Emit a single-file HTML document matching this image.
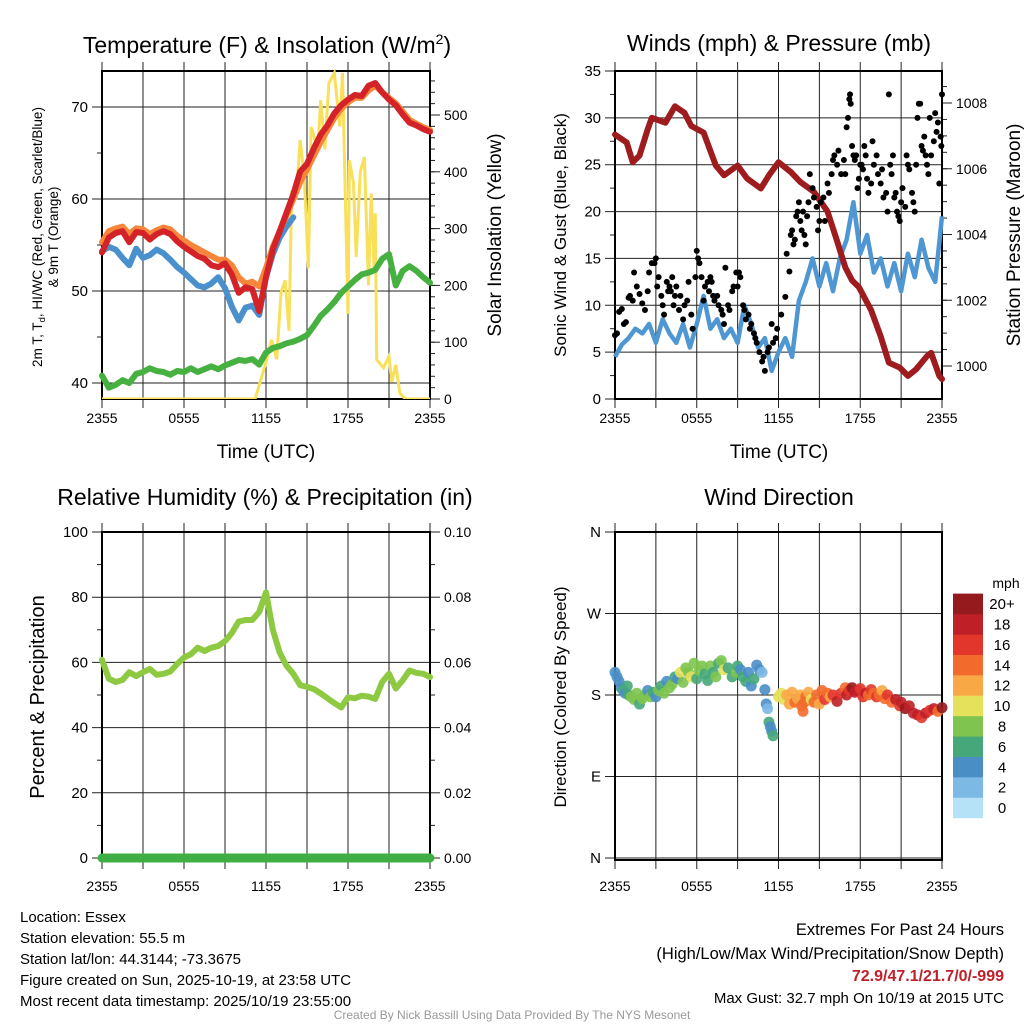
<!DOCTYPE html>
<html><head><meta charset="utf-8"><style>
html,body{margin:0;padding:0;background:#fff;}
svg{display:block;font-family:"Liberation Sans",Arial,sans-serif;}
</style></head><body>
<svg id="chart" width="1024" height="1024" viewBox="0 0 1024 1024" xmlns="http://www.w3.org/2000/svg">
<rect width="1024" height="1024" fill="#fff"/>
<g id="g"></g>
<text x="267" y="53" font-size="23" text-anchor="middle">Temperature (F) &amp; Insolation (W/m<tspan font-size="14" dy="-9">2</tspan><tspan dy="9">)</tspan></text>
<text x="779" y="51" font-size="23" text-anchor="middle">Winds (mph) &amp; Pressure (mb)</text>
<text x="265" y="505" font-size="23" text-anchor="middle">Relative Humidity (%) &amp; Precipitation (in)</text>
<text x="779" y="505" font-size="23" text-anchor="middle">Wind Direction</text>
<text x="266" y="458" font-size="19" text-anchor="middle">Time (UTC)</text>
<text x="779" y="458" font-size="19" text-anchor="middle">Time (UTC)</text>
<text transform="translate(42,237) rotate(-90)" font-size="13.5" text-anchor="middle">2m T, T<tspan font-size="9.5" dy="3">d</tspan><tspan dy="-3">, HI/WC (Red, Green, Scarlet/Blue)</tspan></text>
<text transform="translate(58,237) rotate(-90)" font-size="13.5" text-anchor="middle">&amp; 9m T (Orange)</text>
<text transform="translate(501,235) rotate(-90)" font-size="19" text-anchor="middle">Solar Insolation (Yellow)</text>
<text transform="translate(566,235) rotate(-90)" font-size="17" text-anchor="middle">Sonic Wind &amp; Gust (Blue, Black)</text>
<text transform="translate(1020,235) rotate(-90)" font-size="19" text-anchor="middle">Station Pressure (Maroon)</text>
<text transform="translate(44,697) rotate(-90)" font-size="20" text-anchor="middle">Percent &amp; Precipitation</text>
<text transform="translate(566,697) rotate(-90)" font-size="17" text-anchor="middle">Direction (Colored By Speed)</text>
<g font-size="15">
<text x="20" y="922">Location: Essex</text>
<text x="20" y="943">Station elevation: 55.5 m</text>
<text x="20" y="964">Station lat/lon: 44.3144; -73.3675</text>
<text x="20" y="985">Figure created on Sun, 2025-10-19, at 23:58 UTC</text>
<text x="20" y="1006">Most recent data timestamp: 2025/10/19 23:55:00</text>
</g>
<g text-anchor="end">
<text x="1004" y="935" font-size="16.5">Extremes For Past 24 Hours</text>
<text x="1004" y="959" font-size="16.5">(High/Low/Max Wind/Precipitation/Snow Depth)</text>
<text x="1004" y="981" font-size="16" font-weight="bold" fill="#c0202a">72.9/47.1/21.7/0/-999</text>
<text x="1004" y="1003" font-size="15">Max Gust: 32.7 mph On 10/19 at 2015 UTC</text>
</g>
<text x="512" y="1019" font-size="12" fill="#999" text-anchor="middle">Created By Nick Bassill Using Data Provided By The NYS Mesonet</text>
</svg>
<script>
// ---- data ----
const halfHours = []; for (let i = 0; i <= 48; i++) halfHours.push(i / 2);
const tempRed = [54.2,55.8,56.3,56.5,55.3,56.4,56.3,55.6,56.2,56.5,56.2,55.4,54.8,54.3,53.8,53.5,52.8,52.6,53.0,51.8,49.8,50.4,50.2,47.8,51.5,54.5,56.5,58.5,60.5,63.0,63.8,65.5,67.0,68.0,69.3,70.2,70.8,71.3,71.2,72.3,72.6,71.6,70.8,70.2,69.2,68.3,68.0,67.6,67.3];
const temp9m = [55.3,56.5,56.8,57.0,56.2,56.8,56.7,56.2,56.6,56.9,56.7,56.0,55.5,55.0,54.6,54.2,53.8,53.4,53.4,52.8,51.5,50.8,51.0,50.5,52.5,54.8,56.5,58.2,60.0,61.8,63.2,64.7,66.2,67.5,68.8,69.8,70.5,71.0,71.0,71.8,72.3,71.6,71.0,70.4,69.5,68.6,68.2,67.8,67.5];
const windChill = [54.3,54.8,54.5,53.6,52.8,54.6,53.6,53.9,54.5,54.1,53.4,52.6,52.0,51.3,50.6,50.4,50.8,51.5,50.3,48.3,46.8,48.2,48.4,47.4,51.5,54.0,55.8,57.0,58.0,null,null,null,null,null,null,null,null,null,null,null,null,null,null,null,null,null,null,null,null];
const dewPoint = [40.8,39.5,39.8,40.3,40.0,41.0,41.2,41.6,41.3,41.2,40.9,41.3,41.2,41.6,41.2,41.5,41.8,41.5,41.9,42.2,42.5,42.4,42.6,42.0,43.3,43.8,44.0,44.3,44.5,44.8,45.2,46.2,47.3,48.0,48.8,49.8,50.5,51.2,51.8,52.0,52.3,53.5,54.0,50.6,52.2,52.7,52.2,51.5,50.9];
const insolHours = [0,11.2,12.05,12.4,12.78,13.1,13.4,13.68,13.88,14.2,14.5,14.8,15.1,15.3,15.8,16.0,16.3,16.6,17.0,17.4,17.6,18.0,18.1,18.4,18.6,18.9,19.2,19.5,19.7,19.9,20.0,20.1,20.6,21.0,21.2,21.5,21.8,22.2,24];
const insolValues = [0,0,69,104,70,187,209,120,362,355,456,390,230,479,440,526,440,556,574,480,574,150,420,380,250,400,426,200,362,230,327,69,55,75,30,60,10,0,0];
const windSpeed = [4.5,5.8,6.5,7.5,7.0,8.0,6.0,8.5,7.0,6.0,8.0,5.5,8.0,11.0,7.5,8.5,6.5,7.5,6.0,10.0,8.0,5.5,6.5,3.0,5.0,6.5,4.5,10.5,12.5,15.0,12.0,14.5,11.5,15.0,17.0,21.0,15.5,17.5,13.5,15.0,12.0,14.5,11.5,15.5,13.0,17.0,14.0,12.5,19.5];
const pressHours = [0,0.86,1.3,1.8,2.4,2.7,3.7,4.4,5.1,5.6,6.5,7.4,8.0,9.0,9.7,10.7,11.3,12.0,12.9,13.6,14.6,15.6,16.3,16.9,17.4,17.9,18.8,19.5,20.1,20.9,21.5,22.1,22.9,23.2,23.8,24];
const pressValues = [1007.04,1006.8,1006.2,1006.4,1007.2,1007.55,1007.4,1007.9,1007.7,1007.3,1007.1,1006.1,1005.8,1006.1,1005.7,1005.4,1005.8,1006.2,1005.9,1005.6,1005.3,1004.7,1003.8,1003.0,1002.6,1002.4,1001.7,1000.9,1000.1,999.95,999.7,999.9,1000.3,1000.4,999.7,999.6];
const gustHours = [0,0.15,0.3,0.5,0.65,0.8, 1.0,1.1,1.3,1.4,1.6,1.8,2.0,2.2,2.4, 2.5,2.7,2.9,3.0,3.1,3.2,3.4,3.5,3.6,3.8,3.9, 4.0,4.1,4.2,4.3,4.4,4.5,4.7,4.8,5.0,5.1,5.3,5.4,5.6,5.7,5.9, 6.0,6.1,6.2,6.35,6.5,6.6,6.8,6.9, 7.0,7.1,7.2,7.3,7.5,7.6,7.8,7.9,8.0,8.1,8.3,8.4,8.6,8.7,8.9,9.0, 9.1,9.2,9.4,9.5,9.6,9.8,9.9,10.0,10.2,10.3,10.4, 10.6,10.8,10.9,11.0,11.2,11.3,11.5,11.6,11.8,11.9, 12.2,12.5,12.6,12.8,12.9,13.0, 13.1,13.2,13.3,13.4,13.5,13.6,13.7,13.8,13.9,14.0,14.1,14.2,14.3,14.5,14.6,14.8,14.9, 15.0,15.1,15.3,15.4,15.6,15.7,15.9,16.0,16.1,16.3,16.4,16.6,16.8,16.9, 17.0,17.1,17.2,17.25,17.3,17.4,17.5,17.6,17.7,17.8,17.9,18.0, 18.1,18.2,18.3,18.4,18.5,18.6,18.8,18.9,19.0,19.2,19.3,19.5,19.6,19.7,19.9,20.0, 20.1,20.2,20.3,20.4,20.5,20.6,20.7,20.8,20.9,21.0, 21.1,21.3,21.4,21.5,21.6,21.8,21.9,22.0, 22.1,22.2,22.3,22.4,22.5,22.6,22.7,22.8,22.9,23.0,23.1, 23.2,23.4,23.5,23.6,23.7,23.8,23.9,24.0,23.95];
const gustMph = [6.8,7.0,9.3,9.6,8.0,8.2, 10.8,11.0,10.5,13.5,12.0,11.2,10.2,9.5,11.5, 13.5,14.5,14.5,15.0,12.0,13.0,11.0,10.0,9.0,12.5,11.5, 12.0,11.5,13.0,10.0,11.0,12.0,9.5,11.0,8.5,10.0,10.5,12.5,9.0,7.5,13.0, 15.8,15.0,14.5,13.0,10.5,12.0,12.5,11.5, 13.0,12.5,11.0,10.5,11.0,10.0,9.5,9.0,8.0,14.0,10.0,9.5,11.5,12.0,13.5,12.0, 13.5,13.0,10.0,9.5,8.5,9.0,7.5,8.0,7.0,6.5,6.0, 5.0,4.0,4.5,3.0,5.0,5.5,8.0,6.0,6.5,7.5, 9.0,10.9,15.5,13.6,17.5,18.0, 16.5,17.0,19.5,20.0,21.0,19.0,18.0,20.0,17.5,16.5,19.5,21.0,24.0,22.5,21.5,20.5,18.0, 19.0,21.0,21.5,19.0,23.0,22.0,24.0,25.5,26.0,25.0,26.5,24.0,25.5,24.0, 29.0,30.0,32.0,32.5,31.5,27.0,26.0,25.5,26.0,22.5,23.5,25.0, 25.0,24.5,27.0,26.0,23.5,22.0,23.0,27.5,25.0,26.0,24.0,23.0,24.5,21.5,22.0,20.0, 32.5,25.0,24.0,26.0,21.5,22.0,20.0,19.5,19.0,21.0, 22.5,20.5,26.0,25.0,24.5,22.0,21.0,20.0, 25.0,30.0,31.5,31.5,27.0,26.5,28.0,26.0,25.0,24.0,30.0, 26.0,27.5,30.5,28.5,29.5,23.0,28.0,32.5,27.0];
const relHumidity = [60.8,55.0,54.0,54.6,57.0,55.8,57.0,58.0,56.2,56.5,57.2,59.5,61.5,62.5,64.5,63.5,64.5,65.0,66.5,69.0,72.5,73.0,73.0,75.5,81.5,70.0,63.0,59.0,56.5,53.0,52.5,51.8,50.5,49.0,47.5,46.2,49.3,49.0,49.8,49.5,48.8,54.0,56.5,52.0,54.5,57.5,56.8,56.5,55.5];
const precip = [0,0,0,0,0,0,0,0,0,0,0,0,0,0,0,0,0,0,0,0,0,0,0,0,0,0,0,0,0,0,0,0,0,0,0,0,0,0,0,0,0,0,0,0,0,0,0,0,0];
const dirHours = [0,0.15,0.3,0.45,0.6,0.75,0.9, 1.0,1.2,1.4,1.6,1.8,2.0,2.2,2.4,2.6,2.8, 3.0,3.2,3.4,3.6,3.8,4.0,4.2,4.4,4.6,4.8,5.0, 5.2,5.4,5.6,5.8,6.0,6.2,6.4,6.6,6.8, 7.0,7.2,7.4,7.6,7.8,8.0,8.3,8.6,8.9, 9.0,9.2,9.4,9.6,9.8,10.0,10.2,10.4,10.6,10.8, 11.0,11.1,11.2,11.3,11.4,11.5,11.6, 12.0,12.2,12.4,12.6,12.8,13.0,13.2,13.4,13.6,13.7,13.8,13.9, 14.0,14.2,14.4,14.6,14.8,15.0,15.2,15.4,15.6,15.8,16.0,16.3,16.6,16.9, 17.0,17.2,17.4,17.6,17.8,18.0,18.2,18.4,18.6,18.8, 19.0,19.2,19.4,19.6,19.8,20.0,20.3,20.6,20.9, 21.0,21.3,21.6,21.9,22.2,22.5,22.8,23.1,23.4,23.7,24.0];
const dirDeg = [205,200,195,188,185,182,190, 180,178,175,182,170,176,180,185,178,183, 178,185,190,182,195,188,192,200,198,205,194, 210,205,200,215,198,207,212,203,196, 212,205,200,215,218,208,210,200,205, 212,208,200,195,205,190,198,213,208,205, 186,170,165,150,145,140,135, 178,182,175,180,170,183,172,176,180,168,162,172, 178,183,175,172,180,170,185,175,182,178,180,173,182,188, 180,185,188,183,185,187,178,182,180,186, 182,178,180,185,176,180,172,175,168, 172,165,168,160,158,155,160,163,165,162,166];
const dirSpeed = [4,4,4,4,6,4,5, 6,8,8,8,6,8,8,4,8,6, 4,8,6,8,4,8,8,6,4,10,8, 8,8,10,8,6,8,8,6,6, 8,6,8,6,8,10,6,6,8, 6,4,6,6,4,4,6,4,4,2, 4,4,2,6,4,4,6, 10,10,10,12,12,12,14,12,12,14,14,14, 14,12,10,14,14,12,14,16,14,12,16,18,16,14, 18,16,20,18,18,16,16,18,14,16, 14,16,14,12,14,16,14,18,16, 18,20,18,18,18,16,18,16,18,14,20];
const legendLabels = ["0","2","4","6","8","10","12","14","16","18","20+"];
const legendColors = ["#b5e2f7","#7cb9e4","#4a8ec6","#46a77a","#7ec44f","#e6e15a","#f8a946","#f26b2c","#e2362c","#bf1f27","#951a1e"];
const timeTicks = [0,6,12,18,24];
const timeLabels = ["2355","0555","1155","1755","2355"];

// ---- helpers ----
const NS = "http://www.w3.org/2000/svg";
const root = document.getElementById('g');
function mk(tag, attrs, parent) {
  const e = document.createElementNS(NS, tag);
  for (const k in attrs) e.setAttribute(k, attrs[k]);
  (parent || root).appendChild(e);
  return e;
}
function lin(d0, d1, r0, r1) { return v => r0 + (v - d0) / (d1 - d0) * (r1 - r0); }
function pathFrom(xs, ys, fx, fy) {
  let d = "", pen = false;
  for (let i = 0; i < xs.length; i++) {
    if (ys[i] === null) { pen = false; continue; }
    d += (pen ? "L" : "M") + fx(xs[i]).toFixed(1) + "," + fy(ys[i]).toFixed(1);
    pen = true;
  }
  return d;
}
function drawFrame(name, x0, x1, y0, y1, fy, majors, minors, fmt, rfy, rmajors, rminors, rfmt, labelY) {
  const g = mk('g', {});
  
  
  const fx = lin(0, 24, x0, x1);
  for (let h = 0; h <= 24; h += 3) {
    const x = fx(h);
    mk('line', {x1: x, x2: x, y1: y0, y2: y1, stroke: '#222', 'stroke-width': 1}, g);
    mk('line', {x1: x, x2: x, y1: y0 - 9, y2: y0, stroke: '#222', 'stroke-width': 1}, g);
    mk('line', {x1: x, x2: x, y1: y1, y2: y1 + 9, stroke: '#222', 'stroke-width': 1}, g);
  }
  timeTicks.forEach((h, i) => {
    const t = mk('text', {x: fx(h), y: labelY, 'font-size': 14, 'text-anchor': 'middle'}, g);
    t.textContent = timeLabels[i];
  });
  majors.forEach(v => {
    const y = fy(v);
    mk('line', {x1: x0 - 10, x2: x1, y1: y, y2: y, stroke: '#222', 'stroke-width': 1}, g);
    const t = mk('text', {x: x0 - 14, y: y + 5, 'font-size': 15, 'text-anchor': 'end'}, g);
    t.textContent = fmt(v);
  });
  minors.forEach(v => { const y = fy(v); mk('line', {x1: x0 - 5, x2: x0, y1: y, y2: y, stroke: '#222'}, g); });
  if (rfy) {
    rmajors.forEach(v => {
      const y = rfy(v);
      mk('line', {x1: x1, x2: x1 + 10, y1: y, y2: y, stroke: '#222'}, g);
      const t = mk('text', {x: x1 + 14, y: y + 5, 'font-size': 14}, g);
      t.textContent = rfmt(v);
    });
    rminors.forEach(v => { const y = rfy(v); mk('line', {x1: x1, x2: x1 + 5, y1: y, y2: y, stroke: '#222'}, g); });
  }
  mk('rect', {x: x0, y: y0, width: x1 - x0, height: y1 - y0, fill: 'none', stroke: '#000', 'stroke-width': 2}, g);
  return fx;
}
function range(a, b, s) { const r = []; for (let v = a; v <= b + 1e-9; v += s) r.push(+v.toFixed(4)); return r; }

// ---- Panel 1: temperature ----
(function () {
  const x0 = 102, x1 = 430, y0 = 71, y1 = 399;
  const fy = lin(40, 70, 383, 107);
  const ry = lin(0, 500, 399, 115);
  const fx = drawFrame('temperature', x0, x1, y0, y1, fy, [40,50,60,70], [45,55,65], v => v, ry, range(0,500,100), range(20,560,20), v => v, 423);
  const clip = mk('clipPath', {id: 'c1'}); mk('rect', {x: x0, y: y0 - 2, width: x1 - x0, height: y1 - y0 + 2}, clip);
  const yl = mk('path', {d: pathFrom(insolHours, insolValues, fx, ry), fill: 'none', stroke: '#f8e05a', 'stroke-width': 3, 'clip-path': 'url(#c1)'});
  
  
  const series = [[dewPoint, '#46b040', 'dewpoint-line'], [windChill, '#4a90cc', 'windchill-line'], [temp9m, '#f6863a', 'temp-9m-line'], [tempRed, '#d42229', 'temp-2m-line']];
  series.forEach(s => {
    const p = mk('path', {d: pathFrom(halfHours, s[0], fx, fy), fill: 'none', stroke: s[1], 'stroke-width': 6, 'stroke-linejoin': 'round', 'stroke-linecap': 'round'});
    
    
  });
})();

// ---- Panel 2: winds ----
(function () {
  const x0 = 615, x1 = 942, y0 = 71, y1 = 399;
  const fy = lin(0, 35, 399, 71);
  const ry = lin(1000, 1008, 366, 103);
  const fx = drawFrame('winds', x0, x1, y0, y1, fy, range(0,35,5), range(2.5,32.5,5), v => v, ry, [1000,1002,1004,1006,1008], range(1000.5,1008.5,0.5), v => v, 423);
  const w = mk('path', {d: pathFrom(halfHours, windSpeed, fx, fy), fill: 'none', stroke: '#4f97d2', 'stroke-width': 4.5, 'stroke-linejoin': 'round'});
  
  
  const pr = mk('path', {d: pathFrom(pressHours, pressValues, fx, ry), fill: 'none', stroke: '#9e1b1e', 'stroke-width': 6, 'stroke-linejoin': 'round', 'stroke-linecap': 'round'});
  
  
  const gg = mk('g', {});
  
  
  gustHours.forEach((h, i) => {
    const c = mk('circle', {cx: fx(h), cy: fy(gustMph[i]), r: 3, fill: '#000'}, gg);
    
    
  });
})();

// ---- Panel 3: humidity ----
(function () {
  const x0 = 102, x1 = 430, y0 = 532, y1 = 860;
  const fy = lin(0, 100, 858, 532);
  const ry = lin(0, 0.1, 858, 532);
  const fx = drawFrame('humidity', x0, x1, y0, y1, fy, range(0,100,20), range(10,90,20), v => v, ry, range(0,0.1,0.02), range(0.01,0.09,0.02), v => v.toFixed(2), 891);
  const p = mk('path', {d: pathFrom(halfHours, precip, fx, ry), fill: 'none', stroke: '#3fae45', 'stroke-width': 9, 'stroke-linecap': 'round'});
  
  
  const rh = mk('path', {d: pathFrom(halfHours, relHumidity, fx, fy), fill: 'none', stroke: '#8dc941', 'stroke-width': 6, 'stroke-linejoin': 'round', 'stroke-linecap': 'round'});
  
  
})();

// ---- Panel 4: wind direction ----
(function () {
  const x0 = 615, x1 = 942, y0 = 532, y1 = 860;
  const fy = lin(0, 360, 858, 532);
  const names = {0: 'N', 90: 'E', 180: 'S', 270: 'W', 360: 'N'};
  const fx = drawFrame('direction', x0, x1, y0, y1, fy, [0,90,180,270,360], [], v => names[v], null, null, null, null, 891);
  const gg = mk('g', {});
  
  
  dirHours.forEach((h, i) => {
    const idx = Math.min(10, Math.round(dirSpeed[i] / 2));
    const c = mk('circle', {cx: fx(h), cy: fy(dirDeg[i]), r: 5.5, fill: legendColors[idx], 'fill-opacity': 0.9}, gg);
    
    
  });
  const lg = mk('g', {});
  
  
  const t = mk('text', {x: 1006, y: 588, 'font-size': 14, 'text-anchor': 'middle'}, lg);
  t.textContent = 'mph';
  legendLabels.forEach((lab, i) => {
    const top = 818 - (i + 1) * 20.4;
    const r = mk('rect', {x: 953, y: top, width: 30, height: 20.6, fill: legendColors[i]}, lg);
    
    
    const tt = mk('text', {x: 1002, y: top + 15.5, 'font-size': 15, 'text-anchor': 'middle'}, lg);
    tt.textContent = lab;
  });
})();
</script>
</body></html>
